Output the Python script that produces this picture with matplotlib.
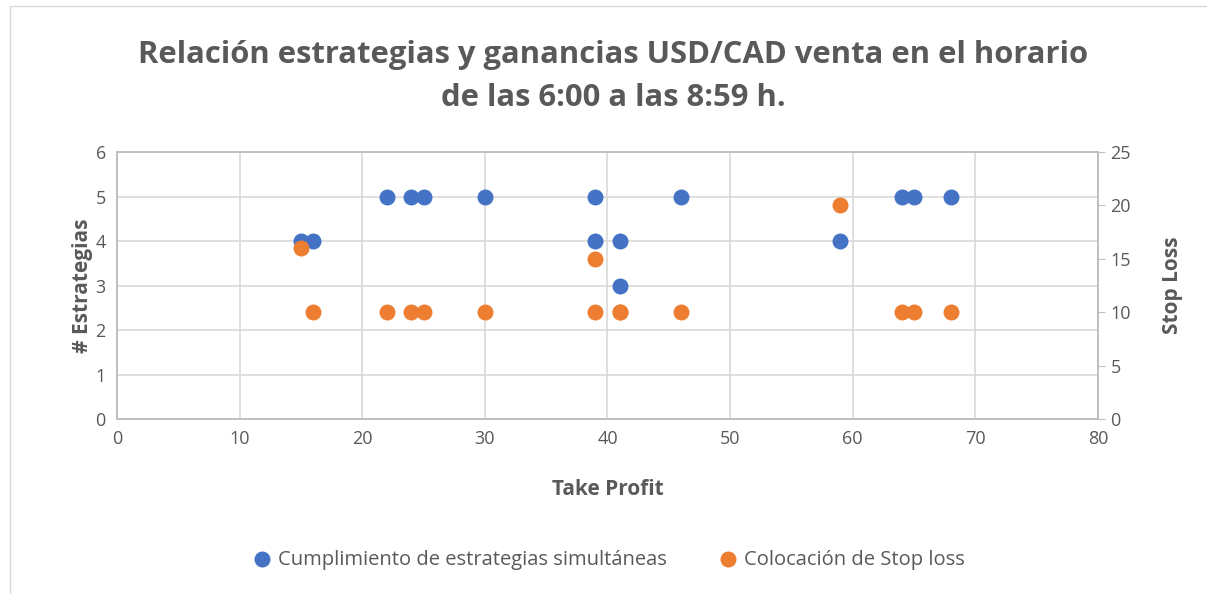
import matplotlib.pyplot as plt
from matplotlib.patches import Rectangle

# datos
take_profit = [15, 16, 22, 24, 25, 30, 39, 39, 41, 41, 46, 59, 64, 65, 68]
estrategias = [4, 4, 5, 5, 5, 5, 5, 4, 4, 3, 5, 4, 5, 5, 5]
stop_loss = [16, 10, 10, 10, 10, 10, 10, 15, 10, 10, 10, 20, 10, 10, 10]

gris = '#595959'
azul = '#4472C4'
naranja = '#ED7D31'

plt.rcParams['font.family'] = ['Open Sans', 'DejaVu Sans']

fig = plt.figure(figsize=(12.07, 5.94), dpi=100)
fig.patches.append(Rectangle((0.008, -0.02), 1.1, 1.01, transform=fig.transFigure,
                             fill=False, edgecolor='#d9d9d9', linewidth=1))
ax = fig.add_axes([0.0969, 0.2946, 0.8128, 0.4495])
ax2 = ax.twinx()

ax.scatter(take_profit, estrategias, s=110, color=azul, zorder=3)
ax2.scatter(take_profit, stop_loss, s=110, color=naranja, zorder=3)

ax.set_xlim(0, 80)
ax.set_ylim(0, 6)
ax2.set_ylim(0, 25)
ax.set_xticks(range(0, 81, 10))
ax.set_yticks(range(0, 7))
ax2.set_yticks(range(0, 26, 5))

ax.grid(True, color='#d9d9d9', linewidth=1.2)
ax.set_axisbelow(True)
for a in (ax, ax2):
    for s in a.spines.values():
        s.set_color('#bfbfbf')
        s.set_linewidth(1.2)
    a.tick_params(colors=gris, labelsize=13)
ax.tick_params(axis='both', length=0, pad=8)
ax2.tick_params(axis='y', length=5, color='#bfbfbf', pad=4)

ax.set_xlabel('Take Profit', fontsize=15, fontweight='bold', color=gris, labelpad=22)
ax.set_ylabel('# Estrategias', fontsize=15, fontweight='bold', color=gris, labelpad=2)
ax2.set_ylabel('Stop Loss', fontsize=15, fontweight='bold', color=gris, labelpad=22)

fig.text(0.508, 0.907, 'Relación estrategias y ganancias USD/CAD venta en el horario',
         fontsize=22.3, fontweight='bold', color=gris, ha='center', va='center')
fig.text(0.508, 0.835, 'de las 6:00 a las 8:59 h.',
         fontsize=22.3, fontweight='bold', color=gris, ha='center', va='center')

h1 = ax.scatter([], [], s=110, color=azul, label='Cumplimiento de estrategias simultáneas')
h2 = ax.scatter([], [], s=110, color=naranja, label='Colocación de Stop loss')
fig.legend(handles=[h1, h2], loc='center', bbox_to_anchor=(0.5, 0.058), ncol=2, frameon=False,
           fontsize=14.5, labelcolor=gris, handletextpad=-0.2, columnspacing=2)

fig.savefig('out.png', dpi=100)
